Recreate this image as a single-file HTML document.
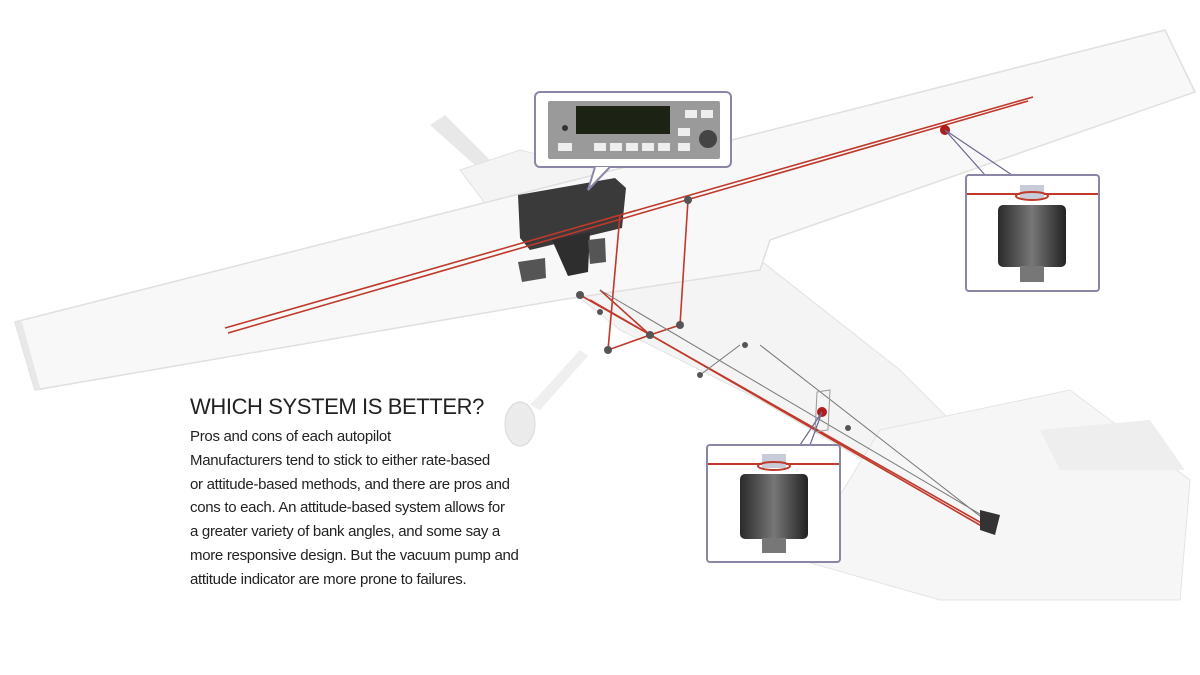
<!DOCTYPE html>
<html><head><meta charset="utf-8"><style>
body{margin:0;background:#fff;width:1200px;height:675px;overflow:hidden;position:relative;font-family:"Liberation Sans",sans-serif}
h1{position:absolute;left:190px;top:394px;margin:0;font-weight:normal;font-size:22px;color:#222;letter-spacing:-0.4px;white-space:nowrap}
.b{position:absolute;left:190px;top:425px;font-size:15px;line-height:23.8px;color:#222;white-space:nowrap;letter-spacing:-0.3px}
</style></head><body>
<svg width="1200" height="675" style="position:absolute;left:0;top:0">
<defs>
<linearGradient id="cyl" x1="0" x2="1"><stop offset="0" stop-color="#2a2a2a"/><stop offset="0.5" stop-color="#777"/><stop offset="1" stop-color="#222"/></linearGradient>
</defs>
<path d="M430 125 L445 115 L490 160 L478 168Z" fill="#e8e8e8"/>
<path d="M460 170 L520 150 L640 180 L760 260 L900 370 L1000 470 L1010 530 L985 545 L880 470 L760 400 L620 330 L520 250Z" fill="#f4f4f4" stroke="#e2e2e2"/>
<path d="M880 430 L1070 390 L1190 480 L1180 600 L940 600 L800 560Z" fill="#f6f6f6" stroke="#e4e4e4"/>
<path d="M1040 430 L1150 420 L1185 470 L1060 470Z" fill="#eeeeee"/>
<path d="M15 322 L1165 30 L1195 92 L770 240 L760 270 L560 300 L35 390Z" fill="#f8f8f8" stroke="#e0e0e0" stroke-width="1.5"/>
<path d="M15 322 L35 390 L40 388 L22 322Z" fill="#e8e8e8"/>
<ellipse cx="520" cy="424" rx="15" ry="22" fill="#ebebeb" stroke="#d8d8d8"/>
<path d="M530 405 L580 350 L588 356 L540 410Z" fill="#efefef"/>
<path d="M518 195 L615 178 L626 188 L622 228 L530 250 L520 238Z" fill="#3a3a3a"/>
<path d="M552 240 L590 232 L588 272 L568 276Z" fill="#2e2e2e"/>
<path d="M518 262 L545 258 L546 278 L522 282Z" fill="#555"/>
<path d="M588 240 L605 238 L606 262 L590 264Z" fill="#555"/>
<g stroke="#c0392b" stroke-width="1.6" fill="none">
<path d="M225 328 L1033 97"/>
<path d="M228 333 L1028 101"/>
<path d="M688 200 L680 325 L650 335 L600 290"/>
<path d="M620 215 L608 350 L650 335"/>
<path d="M580 295 L985 525"/>
<path d="M590 300 L985 528"/>
</g>
<g stroke="#777" stroke-width="1" fill="none">
<path d="M600 290 L990 520"/><path d="M760 345 L985 520"/><path d="M700 375 L740 345"/>
</g>
<g fill="#555"><circle cx="688" cy="200" r="4"/><circle cx="680" cy="325" r="4"/><circle cx="650" cy="335" r="4"/><circle cx="608" cy="350" r="4"/><circle cx="580" cy="295" r="4"/><circle cx="600" cy="312" r="3"/><circle cx="700" cy="375" r="3"/><circle cx="745" cy="345" r="3"/><circle cx="848" cy="428" r="3"/></g>
<circle cx="945" cy="130" r="5" fill="#b01c1c"/>
<circle cx="822" cy="412" r="5" fill="#b01c1c"/>
<path d="M817 392 L830 390 L828 430 L815 432Z" fill="none" stroke="#999"/>
<path d="M980 510 L1000 515 L995 535 L980 530Z" fill="#333"/>
<path d="M945 130 L985 175 M945 130 L1012 175" stroke="#6a6890" stroke-width="1.2" fill="none"/>
<path d="M822 412 L800 445 M822 412 L810 445" stroke="#6a6890" stroke-width="1.2" fill="none"/>
<rect x="535" y="92" width="196" height="75" rx="5" fill="#fff" stroke="#8a86a8" stroke-width="2"/>
<path d="M595 167 L588 190 L610 167" fill="#fff" stroke="#8a86a8" stroke-width="2"/>
<rect x="548" y="101" width="172" height="58" rx="2" fill="#9a9a9a"/>
<rect x="576" y="106" width="94" height="28" fill="#1c2214"/>
<circle cx="565" cy="128" r="3" fill="#333"/>
<g fill="#eee"><rect x="558" y="143" width="14" height="8"/><rect x="594" y="143" width="12" height="8"/><rect x="610" y="143" width="12" height="8"/><rect x="626" y="143" width="12" height="8"/><rect x="642" y="143" width="12" height="8"/><rect x="658" y="143" width="12" height="8"/><rect x="678" y="128" width="12" height="8"/><rect x="678" y="143" width="12" height="8"/><rect x="685" y="110" width="12" height="8"/><rect x="701" y="110" width="12" height="8"/></g>
<circle cx="708" cy="139" r="9" fill="#444"/>
<rect x="966" y="175" width="133" height="116" rx="3" fill="#fff" stroke="#8a86a8" stroke-width="2"/>
<line x1="967" y1="194" x2="1098" y2="194" stroke="#c0392b" stroke-width="2"/>
<rect x="1020" y="185" width="24" height="14" fill="#c8ccd8"/>
<ellipse cx="1032" cy="196" rx="16" ry="4" fill="none" stroke="#c0392b" stroke-width="2"/>
<rect x="998" y="205" width="68" height="62" rx="5" fill="url(#cyl)"/>
<rect x="1020" y="266" width="24" height="16" fill="#777"/>
<rect x="707" y="445" width="133" height="117" rx="3" fill="#fff" stroke="#8a86a8" stroke-width="2"/>
<line x1="708" y1="464" x2="839" y2="464" stroke="#c0392b" stroke-width="2"/>
<rect x="762" y="454" width="24" height="14" fill="#c8ccd8"/>
<ellipse cx="774" cy="466" rx="16" ry="4" fill="none" stroke="#c0392b" stroke-width="2"/>
<rect x="740" y="474" width="68" height="65" rx="5" fill="url(#cyl)"/>
<rect x="762" y="538" width="24" height="15" fill="#777"/>
</svg>
<h1>WHICH SYSTEM IS BETTER?</h1>
<div class="b">Pros and cons of each autopilot<br>Manufacturers tend to stick to either rate-based<br>or attitude-based methods, and there are pros and<br>cons to each. An attitude-based system allows for<br>a greater variety of bank angles, and some say a<br>more responsive design. But the vacuum pump and<br>attitude indicator are more prone to failures.</div>
</body></html>
